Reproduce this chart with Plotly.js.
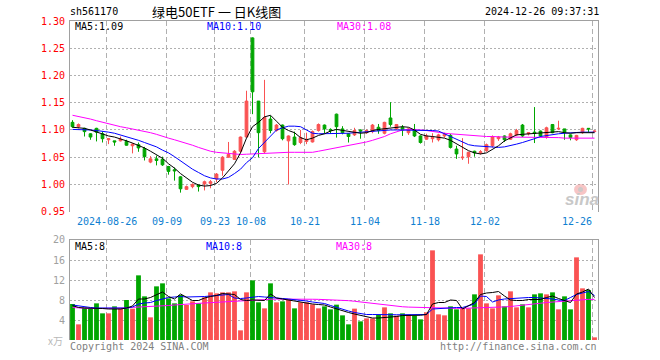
<!DOCTYPE html>
<html><head><meta charset="utf-8">
<script src="https://cdn.plot.ly/plotly-3.0.1.min.js"></script>
<style>html,body{margin:0;padding:0;background:#fff}#chart{width:660px;height:360px}</style>
</head><body><div id="chart"></div>
<script>
// ---- data ----
const dates = ['08-16','08-19','08-20','08-21','08-22','08-23','08-26','08-27','08-28','08-29',
 '08-30','09-02','09-03','09-04','09-05','09-06','09-09','09-10','09-11','09-12',
 '09-13','09-18','09-19','09-20','09-23','09-24','09-25','09-26','09-27','09-30',
 '10-08','10-09','10-10','10-11','10-14','10-15','10-16','10-17','10-18','10-21',
 '10-22','10-23','10-24','10-25','10-28','10-29','10-30','10-31','11-01','11-04',
 '11-05','11-06','11-07','11-08','11-11','11-12','11-13','11-14','11-15','11-18',
 '11-19','11-20','11-21','11-22','11-25','11-26','11-27','11-28','11-29','12-02',
 '12-03','12-04','12-05','12-06','12-09','12-10','12-11','12-12','12-13','12-16',
 '12-17','12-18','12-19','12-20','12-23','12-24','12-25','12-26'];
const tickDates  = ['08-26','09-09','09-23','10-08','10-21','11-04','11-18','12-02','12-26'];
const tickLabels = ['2024-08-26','09-09','09-23','10-08','10-21','11-04','11-18','12-02','12-26'];
const priceTicks = [0.95,1.00,1.05,1.10,1.15,1.20,1.25,1.30];
const priceGrid  = [1.00,1.05,1.10,1.15,1.20,1.25];
const volTicks   = [4,8,12,16,20];
const volGrid    = [4,8,12,16];

const open = [1.114,1.106,1.103,1.093,1.103,1.093,1.082,1.080,1.080,1.079,
 1.071,1.073,1.066,1.041,1.047,1.046,1.033,1.027,1.014,0.991,
 0.996,0.999,1.001,1.002,1.010,1.026,1.050,1.046,1.061,1.087,
 1.269,1.153,1.060,1.120,1.099,1.109,1.080,1.087,1.077,1.079,
 1.078,1.099,1.109,1.101,1.129,1.102,1.093,1.091,1.100,1.095,
 1.097,1.105,1.094,1.122,1.102,1.105,1.095,1.101,1.089,1.083,
 1.084,1.082,1.089,1.090,1.065,1.049,1.051,1.061,1.058,1.062,
 1.071,1.084,1.089,1.083,1.091,1.109,1.093,1.096,1.098,1.087,
 1.110,1.102,1.102,1.091,1.082,1.095,1.103,1.097];
const high = [1.118,1.112,1.104,1.094,1.104,1.097,1.085,1.080,1.088,1.082,
 1.076,1.077,1.069,1.052,1.053,1.051,1.034,1.031,1.015,0.998,
 1.002,0.999,1.007,1.008,1.021,1.052,1.078,1.063,1.088,1.172,
 1.270,1.153,1.192,1.126,1.111,1.110,1.090,1.097,1.100,1.095,
 1.099,1.112,1.110,1.103,1.130,1.107,1.094,1.104,1.101,1.101,
 1.111,1.111,1.115,1.151,1.111,1.109,1.104,1.111,1.090,1.093,
 1.094,1.093,1.095,1.093,1.071,1.085,1.060,1.062,1.063,1.075,
 1.090,1.089,1.090,1.095,1.102,1.111,1.096,1.142,1.099,1.106,
 1.111,1.117,1.102,1.092,1.091,1.104,1.103,1.099];
const low = [1.104,1.103,1.088,1.082,1.079,1.077,1.074,1.071,1.079,1.071,
 1.057,1.060,1.044,1.039,1.035,1.034,1.018,1.007,0.985,0.990,
 0.993,0.987,0.989,0.993,1.004,1.016,1.049,1.045,1.058,1.087,
 1.129,1.050,1.057,1.094,1.097,1.081,1.000,1.071,1.074,1.074,
 1.077,1.097,1.094,1.093,1.086,1.092,1.077,1.089,1.084,1.093,
 1.094,1.093,1.092,1.106,1.100,1.089,1.091,1.087,1.075,1.082,
 1.077,1.079,1.086,1.066,1.047,1.045,1.038,1.051,1.055,1.060,
 1.068,1.080,1.078,1.082,1.089,1.087,1.090,1.076,1.087,1.084,
 1.094,1.100,1.082,1.081,1.080,1.093,1.096,1.096];
const close = [1.106,1.110,1.097,1.087,1.096,1.084,1.084,1.078,1.083,1.072,
 1.074,1.067,1.051,1.047,1.044,1.036,1.024,1.025,0.992,0.996,
 1.000,0.996,1.005,1.005,1.019,1.050,1.055,1.061,1.087,1.153,
 1.170,1.095,1.123,1.099,1.109,1.084,1.089,1.073,1.086,1.083,
 1.097,1.110,1.102,1.099,1.106,1.095,1.088,1.099,1.098,1.099,
 1.109,1.099,1.114,1.110,1.110,1.100,1.102,1.089,1.077,1.089,
 1.086,1.091,1.092,1.068,1.056,1.050,1.059,1.058,1.060,1.073,
 1.088,1.087,1.082,1.093,1.099,1.089,1.095,1.094,1.089,1.104,
 1.095,1.103,1.096,1.086,1.090,1.103,1.102,1.098];
const ma5 = [1.105,1.104,1.103,1.100,1.096,1.092,1.089,1.087,1.084,1.080,
 1.076,1.072,1.067,1.061,1.055,1.048,1.038,1.030,1.020,1.012,
 1.004,0.999,0.997,0.998,1.002,1.012,1.024,1.038,1.058,1.085,
 1.106,1.114,1.124,1.127,1.116,1.105,1.099,1.095,1.086,1.082,
 1.085,1.090,1.093,1.098,1.101,1.099,1.097,1.095,1.094,1.095,
 1.099,1.101,1.102,1.103,1.104,1.106,1.105,1.100,1.092,1.089,
 1.088,1.087,1.085,1.081,1.075,1.068,1.062,1.058,1.056,1.058,
 1.065,1.071,1.080,1.086,1.091,1.092,1.093,1.094,1.095,1.095,
 1.096,1.097,1.095,1.094,1.095,1.095,1.095,1.095];
const ma10 = [1.101,1.101,1.100,1.100,1.099,1.098,1.096,1.094,1.091,1.088,
 1.085,1.081,1.077,1.073,1.069,1.063,1.058,1.051,1.043,1.035,
 1.028,1.022,1.016,1.012,1.010,1.010,1.013,1.020,1.028,1.040,
 1.049,1.066,1.078,1.089,1.100,1.104,1.107,1.107,1.106,1.100,
 1.094,1.093,1.093,1.093,1.093,1.093,1.094,1.095,1.096,1.097,
 1.098,1.099,1.100,1.100,1.100,1.100,1.100,1.100,1.100,1.100,
 1.099,1.098,1.093,1.087,1.082,1.077,1.073,1.071,1.070,1.069,
 1.069,1.068,1.069,1.071,1.074,1.077,1.080,1.084,1.088,1.090,
 1.091,1.093,1.094,1.095,1.096,1.096,1.096,1.096];
const ma30 = [1.127,1.125,1.123,1.120,1.117,1.114,1.111,1.109,1.106,1.104,
 1.102,1.100,1.098,1.095,1.092,1.088,1.085,1.082,1.079,1.076,
 1.072,1.068,1.064,1.061,1.059,1.058,1.057,1.056,1.055,1.0555,
 1.056,1.057,1.058,1.058,1.059,1.059,1.059,1.059,1.059,1.059,
 1.059,1.061,1.063,1.065,1.067,1.069,1.071,1.074,1.076,1.078,
 1.081,1.084,1.088,1.093,1.097,1.100,1.101,1.101,1.100,1.099,
 1.097,1.096,1.094,1.093,1.092,1.091,1.090,1.089,1.089,1.088,
 1.088,1.087,1.087,1.087,1.087,1.087,1.087,1.087,1.087,1.087,
 1.087,1.086,1.085,1.085,1.085,1.085,1.085,1.085];
const volume = [7.2,3.13,6.47,6.4,7.33,5.33,5.33,6.73,6.27,8.0,
 6.27,12.93,8.73,4.53,10.73,11.33,8.33,7.33,9.0,7.0,
 7.73,7.33,8.53,9.53,9.33,9.53,9.53,9.73,1.93,9.53,
 11.93,7.53,6.33,11.33,7.53,7.73,8.13,6.33,7.53,7.53,
 7.13,6.33,6.73,6.13,7.07,4.93,3.13,6.27,3.73,4.33,
 4.33,5.07,6.53,5.33,4.87,5.33,5.07,4.87,4.13,5.53,
 17.93,5.13,4.93,6.73,6.13,6.33,6.33,9.13,17.13,7.33,
 6.33,8.93,6.73,9.73,6.53,7.13,6.53,9.13,9.33,9.13,
 9.53,6.13,8.73,6.13,16.53,10.33,10.0,0.53];
const vma5 = [6.9,6.5,6.4,6.4,6.4,6.3,6.2,6.2,6.2,6.4,
 6.8,8.2,8.2,8.5,9.0,9.6,8.7,8.2,9.2,8.5,
 7.9,7.9,8.4,8.7,8.9,9.3,9.2,9.1,8.1,7.9,
 8.0,7.9,7.9,9.2,8.4,8.2,8.0,7.7,7.5,7.3,
 7.2,7.1,7.0,6.6,6.2,5.9,5.5,5.2,4.9,4.6,
 4.4,4.4,4.5,4.5,4.7,4.9,4.9,4.9,4.95,5.1,
 7.2,7.5,7.5,8.0,7.9,6.2,6.9,7.5,9.1,9.4,
 9.5,9.7,8.8,8.0,7.9,7.9,8.1,8.1,8.1,8.5,
 8.8,8.3,7.9,7.5,9.2,9.6,10.2,8.5];
const vma10 = [7.0,6.8,6.6,6.5,6.4,6.4,6.4,6.35,6.3,6.4,
 6.6,7.2,7.4,7.5,7.9,8.2,8.5,8.6,8.7,8.6,
 8.6,8.6,8.7,8.8,8.9,9.0,9.1,8.4,8.3,8.4,
 8.5,8.7,8.6,8.55,8.4,8.3,8.2,8.1,7.9,7.8,
 7.6,7.5,7.3,6.9,6.5,6.2,5.8,5.5,5.3,5.1,
 5.1,5.05,5.05,5.05,5.05,5.05,5.05,5.05,5.1,5.1,
 6.2,6.3,6.4,6.4,6.5,6.5,6.9,7.2,8.8,8.7,
 7.6,8.0,8.2,8.3,8.3,8.4,8.5,8.5,8.4,8.4,
 8.2,8.0,7.9,8.5,9.1,9.4,9.7,8.9];
const vma30 = [6.5,6.4,6.35,6.3,6.3,6.3,6.3,6.3,6.3,6.4,
 6.53,6.57,6.6,6.65,6.72,6.8,6.9,7.0,7.12,7.22,
 7.28,7.33,7.4,7.47,7.53,7.63,7.75,7.87,7.93,8.0,
 8.03,8.07,8.12,8.15,8.18,8.2,8.2,8.2,8.2,8.18,
 8.15,8.13,8.1,8.07,8.0,7.95,7.87,7.75,7.6,7.5,
 7.3,7.1,7.0,6.85,6.75,6.65,6.58,6.53,6.53,6.53,
 6.5,6.45,6.35,6.33,6.33,6.33,6.35,6.38,6.42,6.47,
 6.5,6.55,6.62,6.7,6.8,6.9,7.0,7.2,7.35,7.5,
 7.6,7.75,7.85,7.95,8.05,8.13,8.13,8.13];

// ---- drawing ----
const RED = '#fa5252', GREEN = '#00a600';
const MONO = 'DejaVu Sans Mono';
const idx = dates.map((d, i) => i);
const tickIdx = tickDates.map(d => dates.indexOf(d));
const gridX = tickIdx.map(i => i - 1/3);
const volColors = idx.map(i => close[i] >= open[i] ? RED : GREEN);

const L = 70, R = 62, T = 21, B = 20, W = 660, H = 360;
const PW = W - L - R, PH = H - T - B;
const pxX = p => (p - L) / PW;
const pxY = p => (H - B - p) / PH;

function ann(text, x, y, color, anchor, size, family, extra) {
  return Object.assign({text, xref:'paper', yref:'paper', x:pxX(x), y:pxY(y),
    xanchor:anchor, yanchor:'middle', showarrow:false, borderpad:0,
    font:{family:family||MONO, size:size||10, color}}, extra||{});
}

const traces = [
  {type:'candlestick', x:idx, open, high, low, close, xaxis:'x', yaxis:'y',
   increasing:{line:{color:RED, width:1}, fillcolor:RED},
   decreasing:{line:{color:GREEN, width:1}, fillcolor:GREEN},
   whiskerwidth:0, hoverinfo:'skip', showlegend:false},
  {type:'scatter', mode:'lines', x:idx, y:ma30, line:{color:'#ff00ff', width:1}, xaxis:'x', yaxis:'y', hoverinfo:'skip'},
  {type:'scatter', mode:'lines', x:idx, y:ma10, line:{color:'#0000ff', width:1}, xaxis:'x', yaxis:'y', hoverinfo:'skip'},
  {type:'scatter', mode:'lines', x:idx, y:ma5, line:{color:'#000000', width:1}, xaxis:'x', yaxis:'y', hoverinfo:'skip'},
  {type:'bar', x:idx, y:volume, width:0.8, marker:{color:volColors, line:{width:0}}, xaxis:'x2', yaxis:'y2', hoverinfo:'skip'},
  {type:'scatter', mode:'lines', x:idx, y:vma30, line:{color:'#ff00ff', width:1}, xaxis:'x2', yaxis:'y2', hoverinfo:'skip'},
  {type:'scatter', mode:'lines', x:idx, y:vma10, line:{color:'#0000ff', width:1}, xaxis:'x2', yaxis:'y2', hoverinfo:'skip'},
  {type:'scatter', mode:'lines', x:idx, y:vma5, line:{color:'#000000', width:1}, xaxis:'x2', yaxis:'y2', hoverinfo:'skip'}
];

const priceBottom = pxY(211.7), volTop = pxY(240);
const xCommon = {range:[-0.4167, 87.5833], side:'top', showline:true, linecolor:'#a0a0a0', linewidth:1,
  tickmode:'array', tickvals:gridX, showticklabels:false, ticks:'',
  showgrid:true, gridcolor:'#b0b0b0', gridwidth:1, griddash:'5px,3px', zeroline:false,
  rangeslider:{visible:false}, fixedrange:true};

const annotations = [];
priceTicks.forEach(v => annotations.push({text:v.toFixed(2), xref:'paper', yref:'y', x:pxX(66), y:v,
  xanchor:'right', yanchor:'middle', showarrow:false, borderpad:0, font:{family:MONO, size:10, color:'#ff0000'}}));
volTicks.forEach(v => annotations.push({text:String(v), xref:'paper', yref:'y2', x:pxX(66), y:v,
  xanchor:'right', yanchor:'middle', showarrow:false, borderpad:0, font:{family:MONO, size:10, color:'#a0a0a0'}}));
tickIdx.forEach((ti, k) => {
  const last = k === tickIdx.length - 1;
  annotations.push({text:tickLabels[k], xref:'x', yref:'paper', x:ti - 1/3, y:pxY(221.5),
    xanchor:last ? 'right' : 'center', yanchor:'middle', showarrow:false, borderpad:0,
    font:{family:MONO, size:10, color:'#0f7fd1'}});
});
annotations.push(
  ann('sh561170', 69, 12, '#000', 'left'),
  ann('绿电50ETF 一 日K线图', 151, 11.5, '#000', 'left', 13, 'Noto Sans CJK SC'),
  ann('2024-12-26 09:37:31', 600, 12, '#000', 'right'),
  ann('MA5:1.09', 74, 27, '#000', 'left'),
  ann('MA10:1.10', 206, 27, '#0000ff', 'left'),
  ann('MA30:1.08', 336, 27, '#ff00ff', 'left'),
  ann('MA5:8', 74, 246, '#000', 'left'),
  ann('MA10:8', 205, 246, '#0000ff', 'left'),
  ann('MA30:8', 335, 246, '#ff00ff', 'left'),
  ann('x万', 64, 341, '#b8b8b8', 'right', 10, 'Noto Sans CJK SC'),
  ann('Copyright 2024 SINA.COM', 69, 346, '#808080', 'left'),
  ann('http://finance.sina.com.cn', 598, 346, '#808080', 'right'),
  ann('<b><i>sina</i></b>', 582, 199, '#c8c8c8', 'center', 17, 'Liberation Sans')
);

const layout = {
  width:W, height:H, margin:{l:L, r:R, t:T, b:B, pad:0},
  paper_bgcolor:'#fff', plot_bgcolor:'#fff', showlegend:false, boxgap:0.35,
  font:{family:MONO, size:10},
  xaxis:Object.assign({}, xCommon, {anchor:'y', domain:[0,1]}),
  xaxis2:Object.assign({}, xCommon, {anchor:'y2', domain:[0,1], matches:'x'}),
  yaxis:{domain:[priceBottom, 1], range:[0.95, 1.30], anchor:'x', showline:true, mirror:true,
    linecolor:'#a0a0a0', linewidth:1, tickmode:'array', tickvals:priceGrid, showticklabels:false, ticks:'',
    showgrid:true, gridcolor:'#b0b0b0', gridwidth:1, griddash:'2px,2px', zeroline:false, fixedrange:true},
  yaxis2:{domain:[0, volTop], range:[0, 20], anchor:'x2', showline:true, mirror:true,
    linecolor:'#a0a0a0', linewidth:1, tickmode:'array', tickvals:volGrid, showticklabels:false, ticks:'',
    showgrid:true, gridcolor:'#b0b0b0', gridwidth:1, griddash:'2px,2px', zeroline:false, fixedrange:true},
  annotations,
  shapes:[
    {type:'circle', xref:'paper', yref:'paper', x0:pxX(574), x1:pxX(587), y0:pxY(195), y1:pxY(184),
     fillcolor:'rgba(240,150,150,0.55)', line:{width:0}},
    {type:'circle', xref:'paper', yref:'paper', x0:pxX(578), x1:pxX(583), y0:pxY(192), y1:pxY(187),
     fillcolor:'rgba(200,200,200,0.9)', line:{width:0}}
  ]
};

Plotly.newPlot('chart', traces, layout, {staticPlot:true, displayModeBar:false});
</script>
</body></html>
